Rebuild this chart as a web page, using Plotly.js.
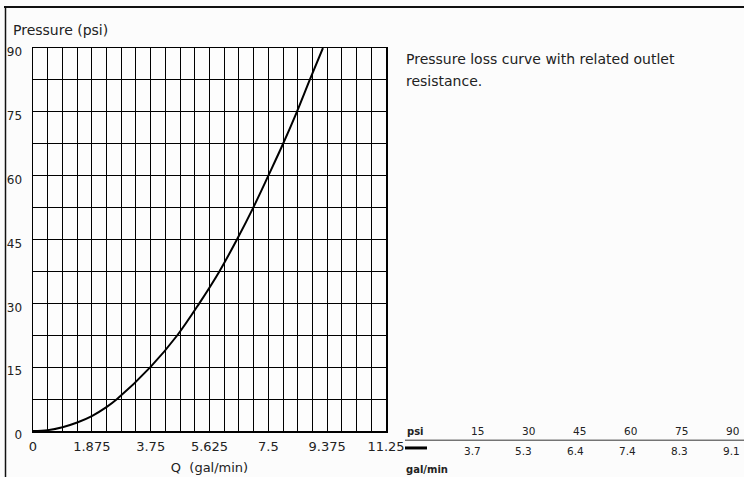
<!DOCTYPE html>
<html>
<head>
<meta charset="utf-8">
<script src="https://cdn.plot.ly/plotly-3.0.1.min.js"></script>
<style>html,body{margin:0;padding:0;background:#fcfcfc;}#chart{width:744px;height:477px;}</style>
</head>
<body>
<div id="chart"></div>
<script>
// Curve: flow (gal/min) vs pressure (psi)
const flowQ = [0, 0.47, 0.94, 1.41, 1.875, 2.34, 2.68, 3.74, 4.6, 5.3, 5.94, 6.5, 7.02, 7.5, 7.97, 8.41, 8.82, 9.24];
const pressureP = [0, 0.2, 0.9, 2.0, 3.5, 5.6, 7.5, 15, 22.5, 30, 37.5, 45, 52.5, 60, 67.5, 75, 82.5, 90];

// Axis ticks
const xTicks = [0, 1.875, 3.75, 5.625, 7.5, 9.375, 11.25];
const xTickText = ["0", "1.875", "3.75", "5.625", "7.5", "9.375", "11.25"];
const yTicks = [0, 15, 30, 45, 60, 75, 90];

// Outlet resistance table
const tablePsi = [15, 30, 45, 60, 75, 90];
const tableGpm = [3.7, 5.3, 6.4, 7.4, 8.3, 9.1];

const FONT = "DejaVu Sans, Verdana, sans-serif";
const TXT = "#222";

// pixel helpers for paper coords (plot area x:33..386, y:47.5..431.5)
const L = 33, R = 386, T = 47.5, B = 431.5;
const px = x => (x - L) / (R - L);
const py = y => (B - y) / (B - T);

const annotations = [
  {text: "Pressure (psi)", xref: "paper", yref: "paper", x: px(11), y: py(29), xanchor: "left", yanchor: "middle", showarrow: false, font: {family: FONT, size: 14, color: TXT}},
  {text: "Pressure loss curve with related outlet", xref: "paper", yref: "paper", x: px(404), y: py(59), xanchor: "left", yanchor: "middle", showarrow: false, font: {family: FONT, size: 14, color: TXT}},
  {text: "resistance.", xref: "paper", yref: "paper", x: px(404), y: py(81), xanchor: "left", yanchor: "middle", showarrow: false, font: {family: FONT, size: 14, color: TXT}},
  {text: "psi", xref: "paper", yref: "paper", x: px(405), y: py(432), xanchor: "left", yanchor: "middle", showarrow: false, font: {family: "DejaVu Sans, sans-serif", size: 10, weight: "bold", color: TXT}},
  {text: "gal/min", xref: "paper", yref: "paper", x: px(404), y: py(470), xanchor: "left", yanchor: "middle", showarrow: false, font: {family: "DejaVu Sans, sans-serif", size: 10, weight: "bold", color: TXT}}
];
tablePsi.forEach((v, i) => annotations.push({text: String(v), xref: "paper", yref: "paper", x: px(477 + 51 * i), y: py(431), xanchor: "center", yanchor: "middle", showarrow: false, font: {family: FONT, size: 10.5, color: TXT}}));
tableGpm.forEach((v, i) => annotations.push({text: v.toFixed(1), xref: "paper", yref: "paper", x: px(472 + 51.8 * i), y: py(452), xanchor: "center", yanchor: "middle", showarrow: false, font: {family: FONT, size: 10.5, color: TXT}}));

const shapes = [
  // outer frame (top and left)
  {type: "line", xref: "paper", yref: "paper", x0: px(4), x1: px(760), y0: py(6.5), y1: py(6.5), line: {color: "#111", width: 2}},
  {type: "line", xref: "paper", yref: "paper", x0: px(5.5), x1: px(5.5), y0: py(6.5), y1: py(490), line: {color: "#111", width: 1.5}},
  // table rule and swatch
  {type: "line", xref: "paper", yref: "paper", x0: px(405), x1: px(760), y0: py(440.7), y1: py(440.7), line: {color: "#333", width: 1}},
  {type: "line", xref: "paper", yref: "paper", x0: px(405), x1: px(427), y0: py(448.5), y1: py(448.5), line: {color: "#000", width: 3}}
];

const trace = {
  x: flowQ, y: pressureP, type: "scatter", mode: "lines",
  line: {color: "#000", width: 2, shape: "spline", smoothing: 1},
  hoverinfo: "x+y", showlegend: false
};

const layout = {
  width: 744, height: 477,
  margin: {l: L, r: 744 - R, t: T, b: 477 - B, pad: 0},
  paper_bgcolor: "#fcfcfc", plot_bgcolor: "#fdfdfd",
  font: {family: FONT, size: 12, color: TXT},
  showlegend: false,
  xaxis: {
    range: [0, 11.25], tickmode: "array", tickvals: xTicks, ticktext: xTickText,
    showgrid: true, gridcolor: "#000", gridwidth: 1, zeroline: false,
    minor: {tick0: 0, dtick: 0.46875, showgrid: true, gridcolor: "#000", gridwidth: 1},
    showline: true, mirror: true, linecolor: "#000", linewidth: 1.5,
    ticks: "", ticklabelstandoff: 3,
    tickfont: {family: FONT, size: 13, color: TXT},
    title: {text: "Q  (gal/min)", font: {family: FONT, size: 13, color: TXT}, standoff: 10},
    automargin: false, fixedrange: true
  },
  yaxis: {
    range: [0, 90], tickmode: "array", tickvals: yTicks,
    showgrid: true, gridcolor: "#000", gridwidth: 1, zeroline: false,
    minor: {tick0: 0, dtick: 7.5, showgrid: true, gridcolor: "#000", gridwidth: 1},
    showline: true, mirror: true, linecolor: "#000", linewidth: 1.5,
    ticks: "", ticklabelstandoff: 7, ticklabelshift: 4,
    tickfont: {family: FONT, size: 12, color: TXT},
    automargin: false, fixedrange: true
  },
  annotations: annotations,
  shapes: shapes
};

Plotly.newPlot("chart", [trace], layout, {displayModeBar: false, staticPlot: true});
</script>
</body>
</html>
